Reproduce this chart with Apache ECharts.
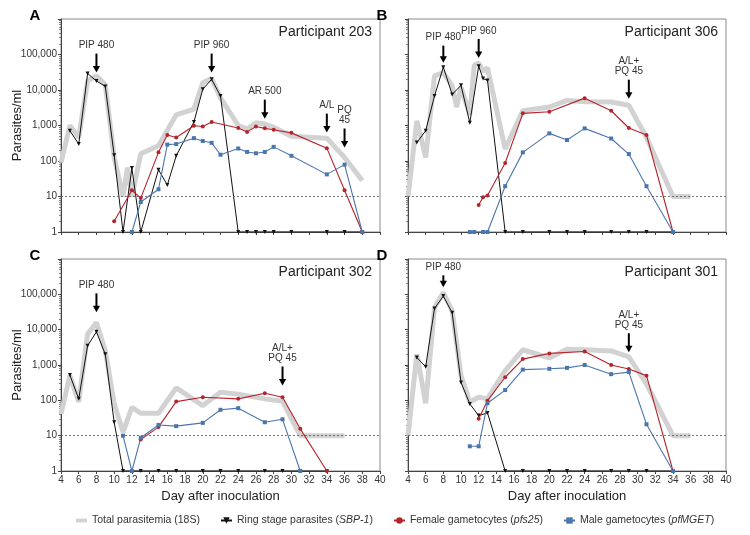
<!DOCTYPE html>
<html>
<head>
<meta charset="utf-8">
<script src="https://cdn.jsdelivr.net/npm/echarts@6/dist/echarts.min.js"></script>
<style>html,body{margin:0;padding:0;background:#fff}#c{width:750px;height:535px}</style>
</head>
<body>
<div id="c"></div>
<script>
// ---------- DATA: [day after inoculation, parasites/ml] ----------
const totalA = [[4,90],[5,1000],[6,460],[7,18000],[8,25000],[9,14000],[10,125],[11,10],[11.5,65],[12,10],[13,160],[15,270],[17,2000],[19,2900],[20,16000],[21,21000],[22,6000],[24,1000],[25,800],[26,1200],[27,1100],[28,900],[30,500],[34,440],[36,125],[38,28]];
const ringA = [[5,710],[6,300],[7,29000],[8,18000],[9,12600],[10,145],[11,1],[12,63],[13,1],[15,57],[16,21],[17,140],[19,1260],[20,10500],[21,20000],[22,6800],[24,1],[25,1],[26,1],[27,1],[28,1],[30,1],[34,1],[36,1],[38,1]];
const femaleA = [[10,2],[12,15],[13,9],[15,175],[16,540],[17,460],[19,980],[20,940],[21,1260],[24,850],[25,660],[26,940],[27,830],[28,760],[30,620],[34,230],[36,15],[38,1]];
const maleA = [[12,1],[13,7],[15,16],[16,290],[17,300],[19,440],[20,365],[21,325],[22,150],[24,225],[25,180],[26,165],[27,180],[28,250],[30,140],[34,42],[36,79],[38,1]];

const totalB = [[4,10],[5,1350],[6,126],[7,25000],[8,31000],[9,13000],[9.5,3300],[10,12000],[11,2000],[11.5,50000],[12,58000],[12.5,34000],[13,42000],[15,217],[17,2600],[20,3300],[22,5100],[24,4700],[27,4600],[29,3700],[31,460],[34,10],[36,10]];
const ringB = [[5,330],[6,710],[7,6800],[8,44000],[9,7500],[10,13500],[11,1200],[12,47000],[12.5,21000],[13,18600],[15,1],[17,1],[20,1],[22,1],[24,1],[27,1],[29,1],[31,1],[34,1]];
const femaleB = [[12,5.8],[12.5,9.6],[13,10.7],[15,88],[17,2200],[20,2450],[24,5900],[27,2600],[29,850],[31,540],[34,1]];
const maleB = [[11,1],[11.5,1],[12.5,1],[13,1],[15,19.5],[17,175],[20,600],[22,390],[24,830],[27,430],[29,157],[31,19.5],[34,1]];

const totalC = [[4,41],[5,500],[6,90],[7,7500],[8,16000],[9,2500],[10,80],[11,12.6],[12,63],[13,43],[15,43],[17,225],[20,71],[22,170],[24,150],[27,110],[29,94],[31,10],[34,10],[36,10]];
const ringC = [[5,520],[6,110],[7,3500],[8,8700],[9,2000],[10,24],[11,1],[13,1],[15,1],[17,1],[20,1],[22,1],[24,1],[27,1],[29,1],[31,1],[34,1]];
const femaleC = [[13,7.8],[15,17.5],[17,92],[20,122],[24,110],[27,158],[29,122],[31,15.6],[34,1]];
const maleC = [[11,10],[12,1],[13,8.7],[15,20],[17,18.6],[20,23],[22,54],[24,60],[27,24],[29,29],[31,1]];

const totalD = [[4,10],[5,2000],[6,83],[7,42000],[8,112000],[9,34000],[10,500],[11,90],[12,122],[13,110],[15,690],[17,2700],[20,1580],[22,2800],[24,2700],[27,2500],[29,1700],[31,290],[34,10],[36,10]];
const ringD = [[5,1630],[6,890],[7,40000],[8,89000],[9,30000],[10,320],[11,79],[12,37],[13,44],[15,1],[17,1],[20,1],[22,1],[24,1],[27,1],[29,1],[31,1],[34,1]];
const femaleD = [[12,30],[13,98],[15,450],[17,1470],[20,2130],[24,2400],[27,1000],[29,770],[31,500],[34,1]];
const maleD = [[11,5],[12,5],[13,83],[15,195],[17,740],[20,780],[22,830],[24,1000],[27,550],[29,630],[31,21],[34,1]];

// annotations: [day, value at arrow tip, text]
const annotA = [[8,31000,'PIP 480'],[21,31000,'PIP 960'],[27,1560,'AR 500'],[34,630,'A/L'],[36,240,'PQ\n45']];
const annotB = [[8,59000,'PIP 480'],[12,80000,'PIP 960'],[29,5700,'A/L+\nPQ 45']];
const annotC = [[8,31000,'PIP 480'],[29,263,'A/L+\nPQ 45']];
const annotD = [[8,158000,'PIP 480'],[29,2300,'A/L+\nPQ 45']];

const participants = ['Participant 203','Participant 306','Participant 302','Participant 301'];
const panelLetters = ['A','B','C','D'];
const seriesNames = ['Total parasitemia (18S)','Ring stage parasites (SBP-1)','Female gametocytes (pfs25)','Male gametocytes (pfMGET)'];
const detectionLimit = 10;
const xTicks = {min:4, max:40, interval:2};
const minorValues = [];
for (let d = 1; d < 1e6; d *= 10) for (let k = 2; k <= 9; k++) minorValues.push(d*k);

// ---------- LAYOUT ----------
const FONT = '"Liberation Sans", Arial, Helvetica, sans-serif';
const grids = [
  {left:61, top:19, width:319, height:213},
  {left:408, top:19, width:318, height:213},
  {left:61, top:259, width:319, height:212},
  {left:408, top:259, width:318, height:212}
];
const panels = [
  [totalA, ringA, femaleA, maleA],
  [totalB, ringB, femaleB, maleB],
  [totalC, ringC, femaleC, maleC],
  [totalD, ringD, femaleD, maleD]
];
const annots = [annotA, annotB, annotC, annotD];
const arrowLenOverride = {'3-0': 12, '1-0': 17};

const COL = {total:'#d2d2d2', ring:'#111111', female:'#b7232b', male:'#4a76ad'};

const fmt = v => String(Math.round(v)).replace(/\B(?=(\d{3})+(?!\d))/g, ',');

const xAxes = grids.map((g, i) => ({
  type:'value', gridIndex:i, min:xTicks.min, max:xTicks.max, interval:xTicks.interval,
  axisLine:{show:true, lineStyle:{color:'#444', width:1}},
  axisTick:{show:true, length:3, lineStyle:{color:'#444'}},
  axisLabel:{show:i>=2, fontSize:10, color:'#333', fontFamily:FONT, margin:4},
  splitLine:{show:false},
  name: i>=2 ? 'Day after inoculation' : '',
  nameLocation:'middle', nameGap:19, nameMoveOverlap:false,
  nameTextStyle:{fontSize:13, color:'#222', fontFamily:FONT}
}));
const yAxes = grids.map((g, i) => ({
  type:'log', logBase:10, gridIndex:i, min:1, max:1000000, position:'left',
  axisLine:{show:true, lineStyle:{color:'#444', width:1}},
  axisTick:{show:true, length:3, lineStyle:{color:'#444'}},
  axisLabel:{show:(i%2===0), fontSize:10, color:'#333', fontFamily:FONT, margin:4,
    formatter: v => v >= 1000000 ? '' : fmt(v)},
  splitLine:{show:false},
  name: (i%2===0) ? 'Parasites/ml' : '',
  nameLocation:'middle', nameGap:37, nameMoveOverlap:false,
  nameTextStyle:{fontSize:13, color:'#222', fontFamily:FONT}
}));
grids.forEach((g, i) => {
  yAxes.push({
    type:'log', logBase:10, gridIndex:i, min:1, max:1000000, position:'left', offset:0,
    axisLine:{show:false},
    axisTick:{show:true, length:2, inside:false, customValues:minorValues, lineStyle:{color:'#666', width:0.8}},
    axisLabel:{show:false},
    splitLine:{show:false}
  });
});

const series = [];
panels.forEach((p, i) => {
  series.push({
    name:seriesNames[0], type:'line', xAxisIndex:i, yAxisIndex:i, data:p[0],
    symbol:'none', lineStyle:{color:COL.total, width:5}, itemStyle:{color:COL.total}, z:1,
    markLine:{silent:true, symbol:'none', label:{show:false},
      lineStyle:{color:'#555', type:[2,2], width:0.8}, data:[{yAxis:detectionLimit}]}
  });
  series.push({
    name:seriesNames[1], type:'line', xAxisIndex:i, yAxisIndex:i, data:p[1],
    symbol:'triangle', symbolRotate:180, symbolSize:4, showAllSymbol:true,
    lineStyle:{color:COL.ring, width:1}, itemStyle:{color:COL.ring}, z:3
  });
  series.push({
    name:seriesNames[2], type:'line', xAxisIndex:i, yAxisIndex:i, data:p[2],
    symbol:'circle', symbolSize:4, showAllSymbol:true,
    lineStyle:{color:COL.female, width:1.1}, itemStyle:{color:COL.female}, z:4
  });
  series.push({
    name:seriesNames[3], type:'line', xAxisIndex:i, yAxisIndex:i, data:p[3],
    symbol:'rect', symbolSize:4, showAllSymbol:true,
    lineStyle:{color:COL.male, width:1.1}, itemStyle:{color:COL.male}, z:4
  });
});

const legendFmt = {
  'Total parasitemia (18S)': '{n|Total parasitemia (18S)}',
  'Ring stage parasites (SBP-1)': '{n|Ring stage parasites (}{i|SBP-1}{n|)}',
  'Female gametocytes (pfs25)': '{n|Female gametocytes (}{i|pfs25}{n|)}',
  'Male gametocytes (pfMGET)': '{n|Male gametocytes (}{i|pfMGET}{n|)}'
};

const chart = echarts.init(document.getElementById('c'), null, {renderer:'canvas'});
chart.setOption({
  animation:false,
  backgroundColor:'#fff',
  textStyle:{fontFamily:FONT},
  grid: grids.map(g => Object.assign({show:true, borderColor:'#8a8a8a', borderWidth:1, backgroundColor:'transparent', containLabel:false}, g)),
  xAxis:xAxes,
  yAxis:yAxes,
  legend:{
    data:[
      {name:seriesNames[0], icon:'path://M0,0L10,0L10,3.5L0,3.5Z'},
      {name:seriesNames[1]},
      {name:seriesNames[2]},
      {name:seriesNames[3]}
    ],
    left:71, top:510, width:700, itemGap:20, itemWidth:11, itemHeight:8,
    formatter: n => legendFmt[n],
    textStyle:{color:'#333', fontSize:10.5, fontFamily:FONT,
      rich:{n:{fontSize:10.5, color:'#333', fontFamily:FONT}, i:{fontSize:10.5, color:'#333', fontStyle:'italic', fontFamily:FONT}}}
  },
  series:series
});

// ---------- annotations, letters, participant labels ----------
const gfx = [];
annots.forEach((list, gi) => {
  list.forEach((a, k) => {
    const tip = chart.convertToPixel({xAxisIndex:gi, yAxisIndex:gi}, [a[0], a[1]]);
    const len = arrowLenOverride[gi + '-' + k] || 19;
    const x = tip[0], yTip = tip[1], yTop = yTip - len;
    gfx.push({type:'line', shape:{x1:x, y1:yTop, x2:x, y2:yTip-5}, style:{stroke:'#000', lineWidth:2}, z:10});
    gfx.push({type:'polygon', shape:{points:[[x-3.6, yTip-6.5],[x+3.6, yTip-6.5],[x, yTip]]}, style:{fill:'#000'}, z:10});
    gfx.push({type:'text', x:x, y:yTop-3, style:{text:a[2], fill:'#333', font:'10px ' + FONT, textAlign:'center', textVerticalAlign:'bottom', lineHeight:10}, z:10});
  });
});
grids.forEach((g, i) => {
  gfx.push({type:'text', x:g.left - 26, y:g.top - 3, style:{text:panelLetters[i], fill:'#000', font:'bold 15px ' + FONT, textAlign:'center', textVerticalAlign:'middle'}, z:10});
  gfx.push({type:'text', x:g.left + g.width - 8, y:g.top + 13, style:{text:participants[i], fill:'#222', font:'14px ' + FONT, textAlign:'right', textVerticalAlign:'middle'}, z:10});
});
chart.setOption({graphic:{elements:gfx}});
</script>
</body>
</html>
